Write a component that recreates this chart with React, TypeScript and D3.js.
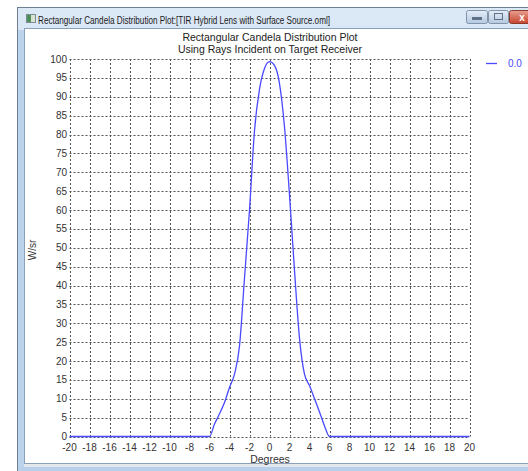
import * as d3 from "d3";

// Candela distribution (degrees, W/sr)
const degrees = [
  -20, -16, -12, -8, -6, -5.5, -5, -4.5, -4, -3.5, -3, -2.5, -2, -1.5, -1, -0.5,
  0, 0.5, 1, 1.5, 2, 2.5, 3, 3.5, 4, 4.5, 5, 5.5, 6, 8, 12, 16, 20,
];
const wattsPerSr = [
  0, 0, 0, 0, 0, 3.3, 6, 9, 13, 16.5, 24, 42, 60, 81, 92, 97.5,
  99.3, 98.3, 93.5, 82, 64, 44, 26, 16.5, 13.5, 10, 6.5, 2.8, 0, 0, 0, 0, 0,
];
const xTicks = d3.range(-20, 21, 2);
const yTicks = d3.range(0, 101, 5);
const legendLabels = ["0.0"];

const windowTitle =
  "Rectangular Candela Distribution Plot:[TIR Hybrid Lens with Surface Source.oml]";
const chartTitle = ["Rectangular Candela Distribution Plot", "Using Rays Incident on Target Receiver"];

const W = 528;
const H = 471;
const font = "'Liberation Sans', Arial, sans-serif";

export default function App() {
  const x = d3.scaleLinear().domain([-20, 20]).range([69.5, 469.5]);
  const y = d3.scaleLinear().domain([0, 100]).range([436.5, 59]);

  const pts = degrees.map((d, i) => [d, wattsPerSr[i]] as [number, number]);
  const line = d3
    .line<[number, number]>()
    .x((d) => x(d[0]))
    .y((d) => y(d[1]))
    .curve(d3.curveMonotoneX);

  const blue = "#4a4aff";

  return (
    <svg
      width={W}
      height={H}
      style={{ position: "absolute", left: 0, top: 0, display: "block" }}
    >
      <defs>
        <linearGradient id="tb" x1="0" y1="0" x2="0" y2="1">
          <stop offset="0" stopColor="#dbe8f6" />
          <stop offset="1" stopColor="#bcd3ec" />
        </linearGradient>
        <linearGradient id="btn" x1="0" y1="0" x2="0" y2="1">
          <stop offset="0" stopColor="#e6eef8" />
          <stop offset="1" stopColor="#b4c8e0" />
        </linearGradient>
        <linearGradient id="cls" x1="0" y1="0" x2="0" y2="1">
          <stop offset="0" stopColor="#e8a090" />
          <stop offset="1" stopColor="#c7432e" />
        </linearGradient>
      </defs>
      <rect width={W} height={H} fill="#ffffff" />

      {/* window frame */}
      <rect x={17.5} y={7.5} width={W} height={H} fill="url(#tb)" stroke="#6f7f92" />
      <rect x={18} y={30} width={6} height={H} fill="#bcd3ec" />
      <rect x={24.5} y={28.5} width={W} height={435} fill="#ffffff" stroke="#8aa0b8" />
      <rect x={24} y={464} width={W} height={3} fill="#e4e8ec" />
      <rect x={18} y={467} width={W} height={4} fill="#b8d0ea" />

      {/* title bar */}
      <rect x={26.5} y={14.5} width={9} height={8} fill="#d8e4d0" stroke="#7d8c9b" />
      <rect x={27} y={15} width={4} height={7} fill="#4f8f5a" />
      <text
        x={38}
        y={23.5}
        fontFamily={font}
        fontSize={10}
        fill="#1a1a1a"
        textLength={292}
        lengthAdjust="spacingAndGlyphs"
      >
        {windowTitle}
      </text>
      <rect x={466.5} y={10.5} width={21} height={13} rx={2} fill="url(#btn)" stroke="#7f93ab" />
      <rect x={472} y={17} width={10} height={3} fill="#5f7188" />
      <rect x={488.5} y={10.5} width={20} height={13} rx={2} fill="url(#btn)" stroke="#7f93ab" />
      <rect x={494.5} y={13.5} width={8} height={6} fill="none" stroke="#5f7188" />
      <rect x={509.5} y={10.5} width={25} height={13} rx={2} fill="url(#cls)" stroke="#8c3a2c" />
      <text x={522} y={21} fontFamily={font} fontSize={10} fontWeight="bold" fill="#ffffff" textAnchor="middle">
        x
      </text>

      {/* chart titles */}
      {chartTitle.map((t, i) => (
        <text
          key={t}
          x={270}
          y={41 + i * 12}
          fontFamily={font}
          fontSize={10.5}
          textAnchor="middle"
          fill="#222"
        >
          {t}
        </text>
      ))}

      {/* grid */}
      <g stroke="#555" strokeWidth={1} strokeDasharray="2,2" fill="none">
        {xTicks.map((t) => (
          <line key={"v" + t} x1={Math.round(x(t)) + 0.5} x2={Math.round(x(t)) + 0.5} y1={y(100)} y2={y(0)} />
        ))}
        {yTicks.map((t) => (
          <line key={"h" + t} x1={x(-20)} x2={x(20)} y1={Math.round(y(t)) + 0.5} y2={Math.round(y(t)) + 0.5} />
        ))}
      </g>

      {/* tick labels */}
      <g fontFamily={font} fontSize={10} fill="#333">
        {yTicks.map((t) => (
          <text key={"yl" + t} x={67} y={y(t) + 3.5} textAnchor="end">
            {t}
          </text>
        ))}
        {xTicks.map((t) => (
          <text key={"xl" + t} x={x(t)} y={451} textAnchor="middle">
            {t}
          </text>
        ))}
      </g>
      <text x={270} y={462.5} fontFamily={font} fontSize={10.5} fill="#333" textAnchor="middle">
        Degrees
      </text>
      <text
        transform="translate(36,250) rotate(-90)"
        fontFamily={font}
        fontSize={10}
        fill="#333"
        textAnchor="middle"
      >
        W/sr
      </text>

      {/* curve */}
      <path d={line(pts) ?? ""} fill="none" stroke={blue} strokeWidth={1.3} />

      {/* legend */}
      {legendLabels.map((l) => (
        <g key={l}>
          <line x1={486} x2={497} y1={63.5} y2={63.5} stroke={blue} strokeWidth={1.3} />
          <text x={508} y={67} fontFamily={font} fontSize={10} fill={blue}>
            {l}
          </text>
        </g>
      ))}
    </svg>
  );
}
